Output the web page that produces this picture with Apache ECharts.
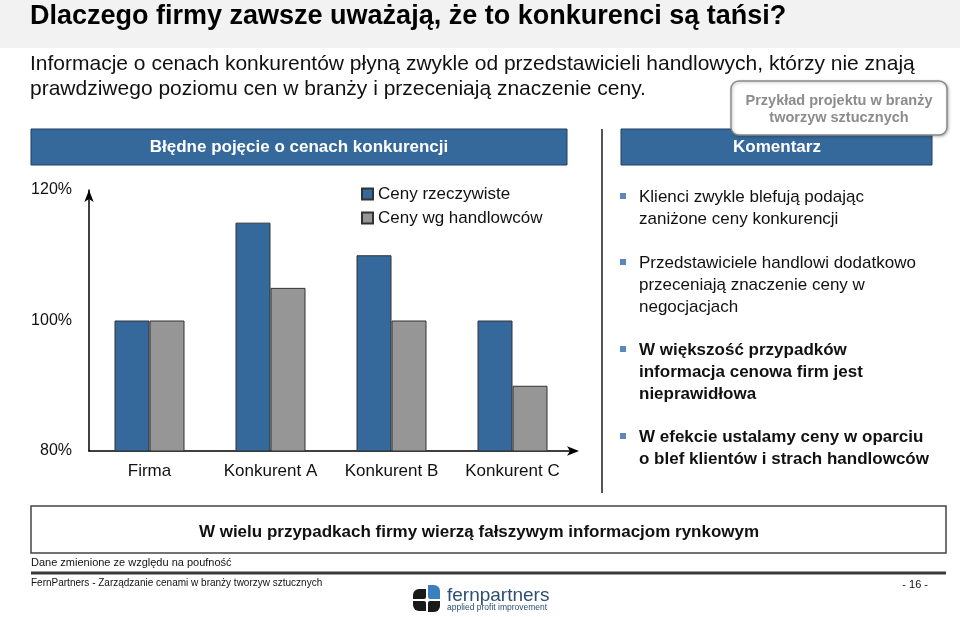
<!DOCTYPE html>
<html>
<head>
    <meta charset="UTF-8">
    <title>Dlaczego firmy zawsze uważają, że to konkurenci są tańsi?</title>
    <script src="https://cdn.jsdelivr.net/npm/echarts@6/dist/echarts.min.js"></script>
</head>
<style type="text/css">
    html, body {
        height: 100%;
        width: 100%;
        margin: 0;
        padding: 0;
        background: #fff;
    }
    #main {
        width: 960px;
        height: 617px;
    }
</style>
<body>
    <div id="main"></div>
</body>
<script>
    // dane wykresu
    var categories = ['Firma', 'Konkurent A', 'Konkurent B', 'Konkurent C'];
    var cenyRzeczywiste = [100, 115, 110, 100];
    var cenyHandlowcow = [100, 105, 100, 90];
    var seriesNames = ['Ceny rzeczywiste', 'Ceny wg handlowców'];
    var yTicks = [80, 100, 120];

    var comments = [
        { bold: false, lines: ['Klienci zwykle blefują podając', 'zaniżone ceny konkurencji'] },
        { bold: false, lines: ['Przedstawiciele handlowi dodatkowo', 'przeceniają znaczenie ceny w', 'negocjacjach'] },
        { bold: true, lines: ['W większość przypadków', 'informacja cenowa firm jest', 'nieprawidłowa'] },
        { bold: true, lines: ['W efekcie ustalamy ceny w oparciu', 'o blef klientów i strach handlowców'] }
    ];
    var commentTops = [197, 263, 350, 437];

    var FONT = '"Liberation Sans", Arial, sans-serif';
    var BLUE = '#35699b';
    var GRAY = '#969696';

    var myChart = echarts.init(document.getElementById('main'));

    function txt(x, y, text, font, fill, align) {
        return {
            type: 'text',
            style: {
                x: x, y: y, text: text, font: font, fill: fill || '#000',
                textAlign: align || 'left', textVerticalAlign: 'middle'
            }
        };
    }

    var graphics = [];
    // pasek tytułu
    graphics.push({ type: 'rect', shape: { x: 0, y: 0, width: 960, height: 48 }, style: { fill: '#f2f2f2' } });
    graphics.push(txt(30, 17, 'Dlaczego firmy zawsze uważają, że to konkurenci są tańsi?', 'bold 27px ' + FONT));
    graphics.push(txt(30, 64, 'Informacje o cenach konkurentów płyną zwykle od przedstawicieli handlowych, którzy nie znają', '21px ' + FONT, '#111'));
    graphics.push(txt(30, 89, 'prawdziwego poziomu cen w branży i przeceniają znaczenie ceny.', '21px ' + FONT, '#111'));

    // nagłówki
    graphics.push({ type: 'rect', shape: { x: 31, y: 129, width: 536, height: 36 }, style: { fill: BLUE, stroke: '#1f3f5f', lineWidth: 1 } });
    graphics.push(txt(299, 147, 'Błędne pojęcie o cenach konkurencji', 'bold 17px ' + FONT, '#fff', 'center'));
    graphics.push({ type: 'rect', shape: { x: 621, y: 129, width: 311, height: 36 }, style: { fill: BLUE, stroke: '#1f3f5f', lineWidth: 1 } });
    graphics.push(txt(777, 147, 'Komentarz', 'bold 17px ' + FONT, '#fff', 'center'));

    // ramka z przykładem projektu
    graphics.push({
        type: 'rect', z: 10,
        shape: { x: 731, y: 81, width: 216, height: 54, r: 8 },
        style: { fill: '#fff', stroke: '#8a8a8a', lineWidth: 1.5, shadowBlur: 3, shadowColor: 'rgba(0,0,0,0.25)', shadowOffsetX: 1, shadowOffsetY: 1 }
    });
    graphics.push(Object.assign(txt(839, 101, 'Przykład projektu w branży', 'bold 14.5px ' + FONT, '#8c8c8c', 'center'), { z: 11 }));
    graphics.push(Object.assign(txt(839, 118, 'tworzyw sztucznych', 'bold 14.5px ' + FONT, '#8c8c8c', 'center'), { z: 11 }));

    // linia oddzielająca
    graphics.push({ type: 'line', shape: { x1: 602, y1: 129, x2: 602, y2: 493 }, style: { stroke: '#555', lineWidth: 2 } });

    // komentarze
    comments.forEach(function (c, i) {
        var top = commentTops[i];
        graphics.push({ type: 'rect', shape: { x: 620, y: top - 4, width: 6, height: 6 }, style: { fill: '#5a88b8' } });
        c.lines.forEach(function (line, j) {
            graphics.push(txt(639, top + j * 22, line, (c.bold ? 'bold ' : '') + '17px ' + FONT, '#111'));
        });
    });

    // podsumowanie
    graphics.push({ type: 'rect', shape: { x: 31, y: 506, width: 915, height: 47 }, style: { fill: 'none', stroke: '#444', lineWidth: 1.5 } });
    graphics.push(txt(479, 532, 'W wielu przypadkach firmy wierzą fałszywym informacjom rynkowym', 'bold 17px ' + FONT, '#111', 'center'));
    graphics.push(txt(31, 563, 'Dane zmienione ze względu na poufność', '11px ' + FONT, '#111'));
    graphics.push({ type: 'line', shape: { x1: 31, y1: 573, x2: 946, y2: 573 }, style: { stroke: '#3a3a3a', lineWidth: 3 } });
    graphics.push(txt(31, 583, 'FernPartners - Zarządzanie cenami w branży tworzyw sztucznych', '10px ' + FONT, '#111'));
    graphics.push(txt(928, 585, '- 16 -', '11px ' + FONT, '#111', 'right'));

    // logo
    graphics.push({ type: 'rect', shape: { x: 413, y: 589, width: 13, height: 10, r: [6, 0, 2, 0] }, style: { fill: '#1a1a1a' } });
    graphics.push({ type: 'rect', shape: { x: 428, y: 585, width: 12, height: 14, r: [0, 6, 0, 2] }, style: { fill: '#3a7fc0' } });
    graphics.push({ type: 'rect', shape: { x: 413, y: 601, width: 13, height: 10, r: [0, 2, 0, 6] }, style: { fill: '#1a1a1a' } });
    graphics.push({ type: 'rect', shape: { x: 428, y: 601, width: 12, height: 11, r: [2, 0, 6, 0] }, style: { fill: '#1a1a1a' } });
    graphics.push(txt(447, 596, 'fernpartners', '19px ' + FONT, '#2d4f73'));
    graphics.push(txt(447, 608, 'applied profit improvement', '8.5px ' + FONT, '#2d4f73'));

    var option = {
        animation: false,
        textStyle: { fontFamily: FONT },
        grid: { left: 89, top: 190, width: 484, height: 261, containLabel: false },
        legend: {
            left: 356, top: 180, orient: 'vertical',
            itemWidth: 11, itemHeight: 11, itemGap: 6,
            icon: 'rect',
            textStyle: { fontSize: 17, color: '#111', lineHeight: 18 },
            data: seriesNames
        },
        xAxis: {
            type: 'category',
            data: categories,
            axisLine: { lineStyle: { color: '#000', width: 1.5 }, symbol: ['none', 'arrow'], symbolSize: [7, 12], symbolOffset: [0, 6] },
            axisTick: { show: false },
            axisLabel: { fontSize: 17, color: '#111', margin: 12, interval: 0, hideOverlap: false }
        },
        yAxis: {
            type: 'value',
            min: yTicks[0], max: yTicks[yTicks.length - 1], interval: 20,
            axisLine: { show: true, lineStyle: { color: '#000', width: 1.5 }, symbol: ['none', 'arrow'], symbolSize: [7, 12] },
            axisTick: { show: false },
            splitLine: { show: false },
            axisLabel: { fontSize: 16, color: '#111', margin: 17, formatter: '{value}%' }
        },
        series: [
            {
                name: seriesNames[0], type: 'bar', data: cenyRzeczywiste,
                barWidth: 35, barGap: '0%',
                itemStyle: { color: BLUE, borderColor: '#333', borderWidth: 1 }
            },
            {
                name: seriesNames[1], type: 'bar', data: cenyHandlowcow,
                barWidth: 35,
                itemStyle: { color: GRAY, borderColor: '#333', borderWidth: 1 }
            }
        ],
        graphic: { elements: graphics }
    };
    myChart.setOption(option);
</script>
</html>
